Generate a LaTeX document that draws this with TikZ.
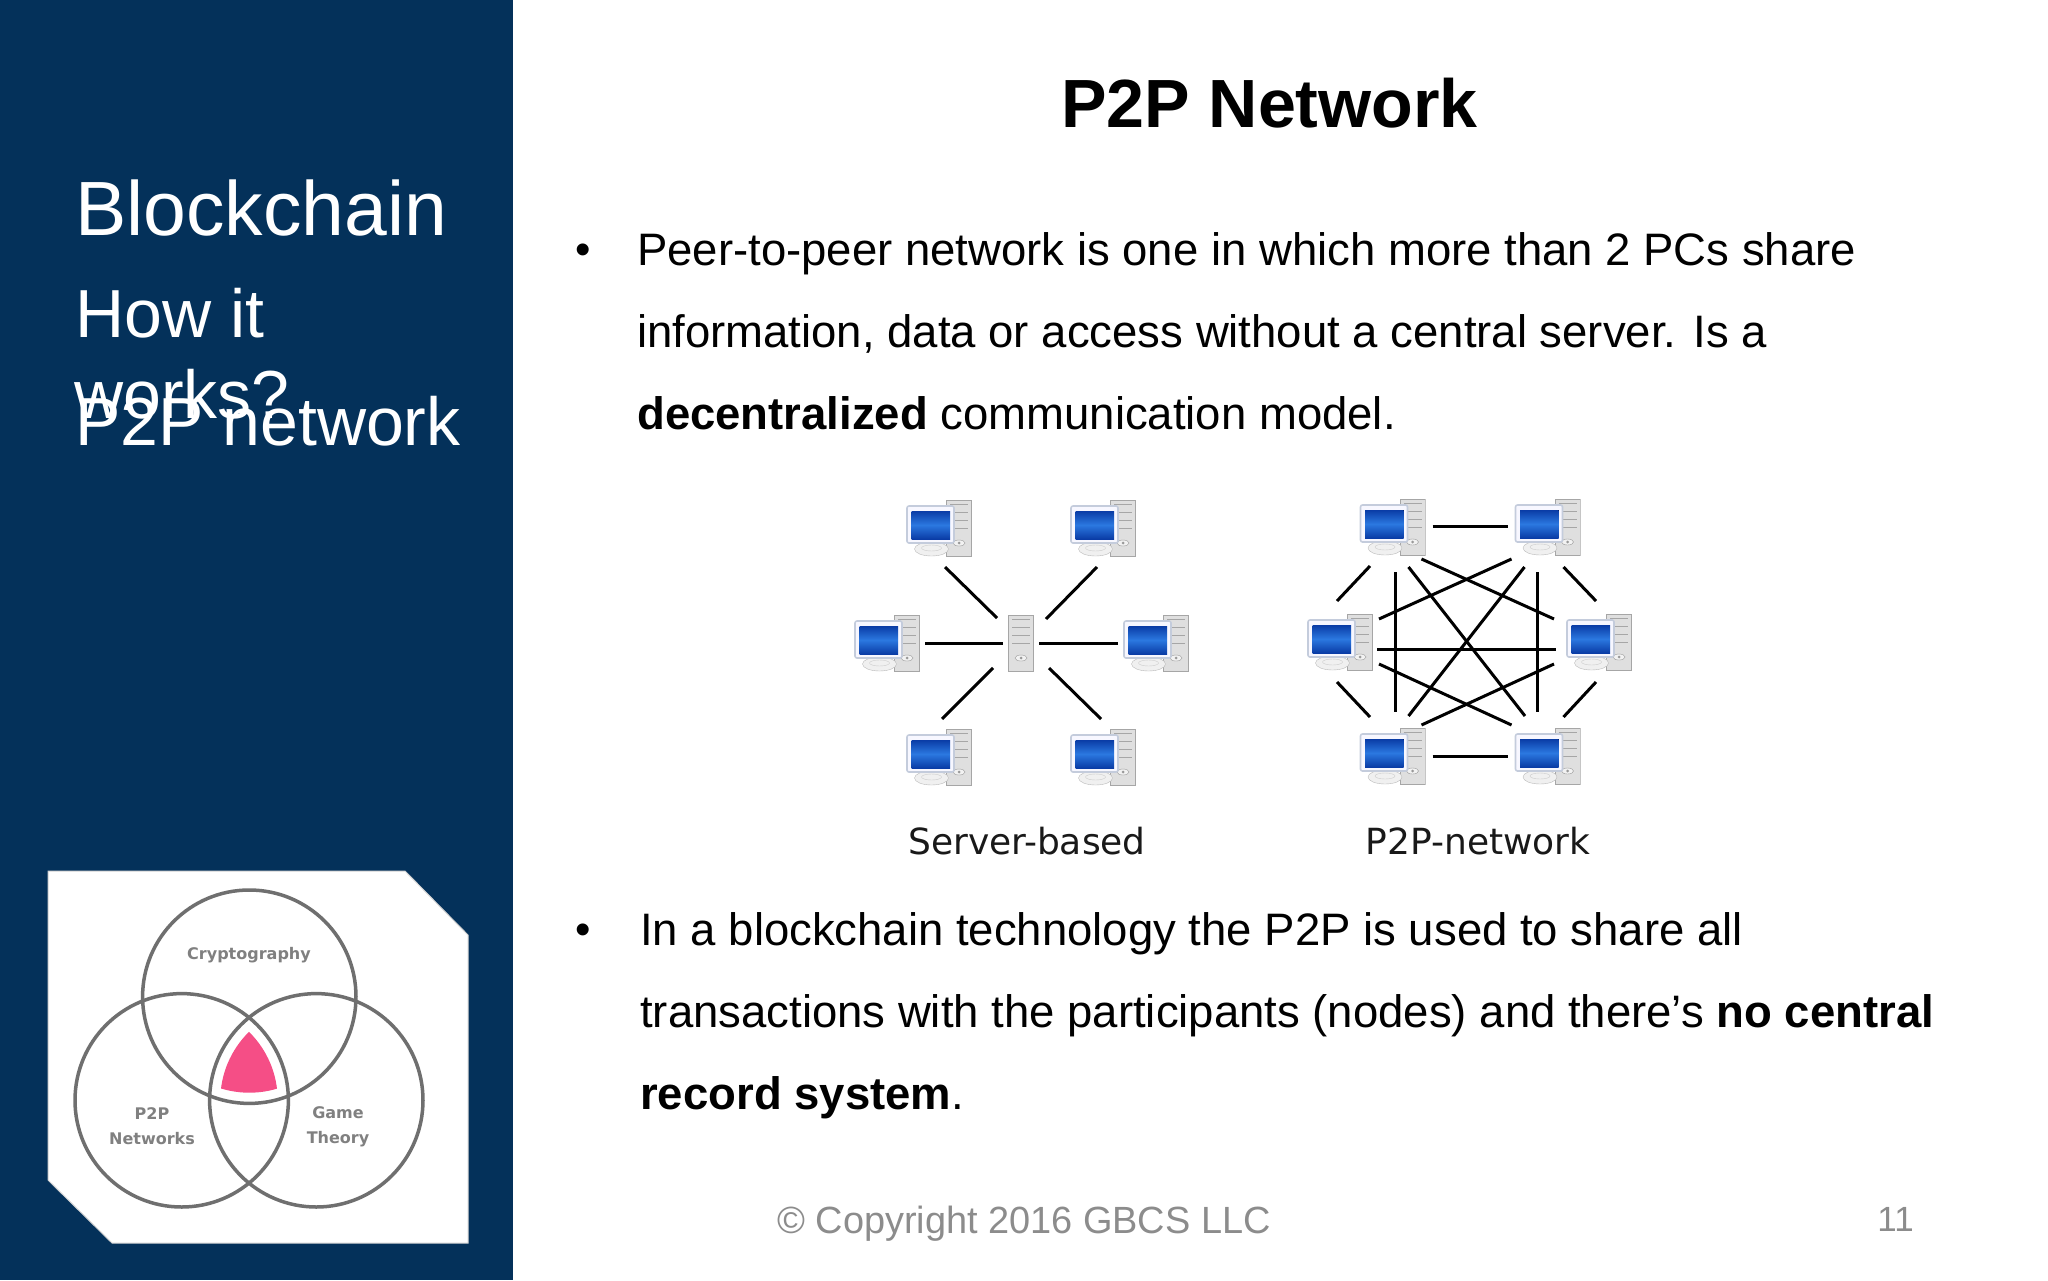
\documentclass[tikz,border=0pt]{standalone}
\usepackage{fontspec}
\setmainfont{Liberation Sans}
\newfontfamily\picfont{DejaVu Sans}
\usepackage{tikz}
\usetikzlibrary{calc}
\definecolor{sidenavy}{HTML}{04315A}
\definecolor{venngray}{HTML}{6F6F6F}
\definecolor{vennpink}{HTML}{F54E86}
\definecolor{footgray}{HTML}{8C8C8C}
\definecolor{screenblue}{HTML}{0A3CA6}
\definecolor{screenlight}{HTML}{2B78E0}
\definecolor{framegray}{HTML}{C4CCDC}
\newcommand{\towerbits}[1]{
  \draw[gray!70,fill=gray!25] (#1-12.5,-28) rectangle (#1+12.5,28);
  \foreach \yy in {-24,-16,-8,0} {\draw[gray!70,line width=0.9pt] (#1-9,\yy) -- (#1+9,\yy);}
  \draw[gray!80,fill=gray!10] (#1,15) ellipse (6 and 3);
  \fill[gray!80] (#1,15) circle (1.5);
}
\tikzset{
  pcbox/.style={minimum width=66pt,minimum height=58pt,inner sep=0pt,path picture={
    \begin{scope}[shift={(path picture bounding box.center)}]
      \towerbits{20}
      \draw[gray!55,fill=gray!12] (-7.5,21) ellipse (17 and 7);
      \draw[gray!40] (-7.5,20) ellipse (10 and 3);
      \draw[framegray,line width=1.6pt,fill=blue!3,rounded corners=2pt] (-32,-22) rectangle (15,15);
      \fill[top color=screenblue,bottom color=screenblue,middle color=screenlight] (-27.5,-17) rectangle (11,11);
    \end{scope}}},
  srvbox/.style={minimum width=26pt,minimum height=58pt,inner sep=0pt,path picture={
    \begin{scope}[shift={(path picture bounding box.center)}]\towerbits{0}\end{scope}}},
  wire/.style={draw=black,line width=3pt},
  vennring/.style={draw=venngray,line width=3.5pt},
  bodytext/.style={font=\fontsize{45.5}{81.7}\selectfont,align=left,anchor=north west,inner sep=0pt},
  sidetext/.style={font=\fontsize{68}{68}\selectfont,text=white,anchor=base west,inner sep=0pt},
  picnote/.style={font=\picfont\fontsize{36}{36}\selectfont,text=black!90,anchor=base,inner sep=0pt},
  venntext/.style={font=\picfont\bfseries\fontsize{16}{25}\selectfont,text=gray,align=center,inner sep=0pt},
}
\begin{document}
\begin{tikzpicture}[x=1pt,y=-1pt]
\path[use as bounding box,fill=white] (0,0) rectangle (2048,1280);
\fill[sidenavy] (0,0) rectangle (513,1280);
% side panel
\node[sidetext,font=\fontsize{76.9}{76.9}\selectfont] (sideMain) at (75,235) {Blockchain};
\node[sidetext] (sideHow) at (75,337) {How it};
\node[sidetext] (sideWorks) at (74,418) {works?};
\node[sidetext] (sideP2P) at (75,445) {P2P network};
% venn picture
\fill[white,draw=gray!35,line width=1pt] (48,871) -- (405,871) -- (468,935) -- (468,1243) -- (112,1243) -- (48,1180) -- cycle;
\begin{scope}
  \clip (249.3,996.7) circle (96);
  \clip (181.7,1100.3) circle (96);
  \fill[vennpink] (316.3,1100.3) circle (96);
\end{scope}
\draw[vennring] (249.3,996.7) circle (106.7);
\draw[vennring] (181.7,1100.3) circle (106.7);
\draw[vennring] (316.3,1100.3) circle (106.7);
\node[venntext] (vennCrypto) at (249,955) {Cryptography};
\node[venntext] (vennNet) at (152,1126) {P2P\\Networks};
\node[venntext] (vennGame) at (338,1127) {Game\\Theory};
% title and text
\node[font=\bfseries\fontsize{68.2}{68.2}\selectfont,anchor=base,inner sep=0pt] (title) at (1269.5,127) {P2P Network};
\node[font=\fontsize{44}{44}\selectfont,anchor=center,inner sep=0pt] (dotA) at (583,254) {•};
\node[bodytext] (textA) at (637,232.5) {Peer-to-peer network is one in which more than 2 PCs share\\
information, data or access without a central server. Is a\\
\textbf{decentralized} communication model.};
\node[font=\fontsize{44}{44}\selectfont,anchor=center,inner sep=0pt] (dotB) at (583,934) {•};
\node[bodytext] (textB) at (640,912.5) {In a blockchain technology the P2P is used to share all\\
transactions with the participants (nodes) and there’s \textbf{no central}\\
\textbf{record system}.};
\node[font=\fontsize{37.9}{37.9}\selectfont,text=footgray,anchor=base west,inner sep=0pt] (copyright) at (777,1233) {© Copyright 2016 GBCS LLC};
\node[font=\fontsize{35}{35}\selectfont,text=footgray,anchor=base east,inner sep=0pt] (pageno) at (1914,1231) {11};
% server based
\node[srvbox] (srv) at (1021,643) {};
\node[pcbox] (sTL) at (939,528) {};
\node[pcbox] (sTR) at (1103,528) {};
\node[pcbox] (sML) at (887,643) {};
\node[pcbox] (sMR) at (1156,643) {};
\node[pcbox] (sBL) at (939,757) {};
\node[pcbox] (sBR) at (1103,757) {};
\draw[wire] ([shift={(6,39)}]sTL.center) -- ([shift={(-24,-25)}]srv.center);
\draw[wire] ([shift={(-6,39)}]sTR.center) -- ([shift={(25,-24)}]srv.center);
\draw[wire] ([shift={(38,0)}]sML.center) -- ([shift={(-18,0)}]srv.center);
\draw[wire] ([shift={(-38,0)}]sMR.center) -- ([shift={(18,0)}]srv.center);
\draw[wire] ([shift={(3,-38)}]sBL.center) -- ([shift={(-28,25)}]srv.center);
\draw[wire] ([shift={(-2,-38)}]sBR.center) -- ([shift={(28,25)}]srv.center);
\node[picnote] (noteServer) at (1027,854) {Server-based};
% p2p
\node[pcbox] (pTL) at (1392.5,527) {};
\node[pcbox] (pTR) at (1547.5,527) {};
\node[pcbox] (pML) at (1340,642) {};
\node[pcbox] (pMR) at (1599,642) {};
\node[pcbox] (pBL) at (1392.5,756) {};
\node[pcbox] (pBR) at (1547.5,756) {};
\draw[wire] ([shift={(40,-1)}]pTL.center) -- ([shift={(-40,-1)}]pTR.center);
\draw[wire] ([shift={(40,0)}]pBL.center) -- ([shift={(-40,0)}]pBR.center);
\draw[wire] ([shift={(-22.5,39)}]pTL.center) -- ([shift={(-3,-41)}]pML.center);
\draw[wire] ([shift={(16,40)}]pTR.center) -- ([shift={(-3,-41)}]pMR.center);
\draw[wire] ([shift={(-3,40)}]pML.center) -- ([shift={(-22.5,-39)}]pBL.center);
\draw[wire] ([shift={(-3,40)}]pMR.center) -- ([shift={(16,-39)}]pBR.center);
\draw[wire] ([shift={(37,7)}]pML.center) -- ([shift={(-43,7)}]pMR.center);
\draw[wire] ([shift={(3,45)}]pTL.center) -- ([shift={(3,-44)}]pBL.center);
\draw[wire] ([shift={(-10,45)}]pTR.center) -- ([shift={(-10,-44)}]pBR.center);
\draw[wire] ([shift={(16,40)}]pTL.center) -- ([shift={(-22.5,-40)}]pBR.center);
\draw[wire] ([shift={(-23,40)}]pTR.center) -- ([shift={(16,-40)}]pBL.center);
\draw[wire] ([shift={(29,32)}]pTL.center) -- ([shift={(-45,-23)}]pMR.center);
\draw[wire] ([shift={(-36,32)}]pTR.center) -- ([shift={(39,-23)}]pML.center);
\draw[wire] ([shift={(39,22)}]pML.center) -- ([shift={(-36,-31)}]pBR.center);
\draw[wire] ([shift={(29,-31)}]pBL.center) -- ([shift={(-45,22)}]pMR.center);
\node[picnote] (noteP2P) at (1478,854) {P2P-network};
\end{tikzpicture}
\end{document}
